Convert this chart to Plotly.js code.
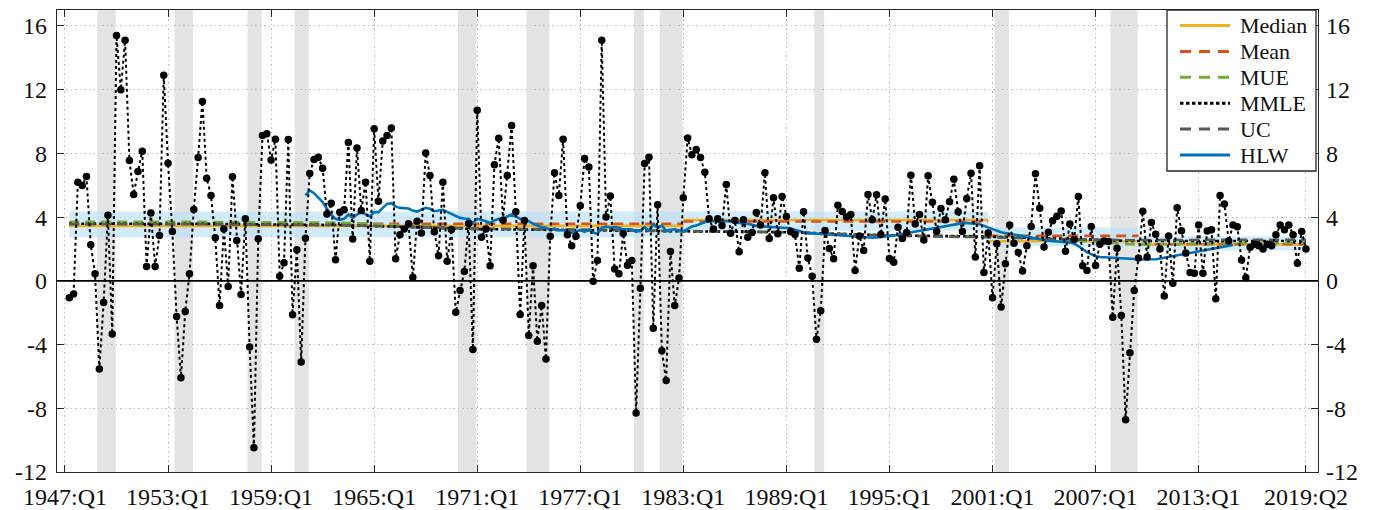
<!DOCTYPE html>
<html><head><meta charset="utf-8">
<script src="https://cdn.plot.ly/plotly-3.0.1.min.js"></script>
<style>html,body{margin:0;padding:0;background:#fff}#chart{width:1381px;height:510px}</style>
</head><body><div id="chart"></div>
<script>
// ---- data (annualised quarterly real GDP growth, 1947:Q2 - 2019:Q2) ----
const firstObs = '1947:Q2';
const growth = [
 -1.07,-0.82,6.19,
 5.98,6.55,2.26,0.44,
 -5.54,-1.36,4.12,-3.33,
 15.4,12.0,15.1,7.55,
 5.42,6.86,8.14,0.9,
 4.25,0.9,2.85,12.9,
 7.38,3.1,-2.24,-6.09,
 -1.92,0.44,4.48,7.74,
 11.26,6.44,5.36,2.7,
 -1.55,3.26,-0.36,6.53,
 2.53,-0.86,3.89,-4.16,
 -10.48,2.64,9.12,9.23,
 7.59,8.89,0.29,1.13,
 8.87,-2.13,1.95,-5.1,
 2.68,6.74,7.62,7.76,
 7.07,4.2,4.87,1.32,
 4.31,4.46,8.68,2.62,
 8.33,4.41,6.19,1.23,
 9.54,5.0,8.77,9.12,
 9.6,1.38,2.9,3.26,
 3.58,0.23,3.74,3.01,
 8.03,6.61,3.08,1.57,
 6.19,1.23,3.22,-1.97,
 -0.61,0.59,3.6,-4.31,
 10.7,2.74,3.26,0.94,
 7.28,8.95,3.8,6.61,
 9.75,4.33,-2.11,3.79,
 -3.43,0.94,-3.79,-1.55,
 -4.9,2.8,6.78,5.36,
 8.89,2.89,2.2,2.8,
 4.71,7.68,7.15,-0.02,
 1.28,15.1,4.0,5.33,
 0.75,0.44,2.97,0.98,
 1.28,-8.3,-0.46,7.36,
 7.76,-2.97,4.77,-4.39,
 -6.26,1.84,-1.55,0.17,
 5.21,8.97,7.91,8.24,
 7.74,6.82,3.89,3.26,
 3.89,3.47,6.05,2.99,
 3.79,1.82,3.83,2.74,
 3.03,4.29,3.5,6.78,
 2.66,5.21,2.95,5.29,
 4.04,3.08,2.91,0.79,
 4.33,1.44,0.29,-3.66,
 -1.88,3.16,2.03,1.38,
 4.75,4.35,4.0,4.16,
 0.65,2.82,1.9,5.42,
 3.83,5.4,2.91,5.13,
 1.4,1.17,3.37,2.66,
 3.03,6.63,3.56,4.16,
 2.57,6.59,4.94,3.1,
 4.54,3.83,4.96,6.38,
 4.33,3.1,5.17,6.76,
 1.49,7.22,0.52,3.0,
 -1.07,2.32,-1.65,1.07,
 3.51,2.36,1.78,0.61,
 2.2,3.41,6.72,4.56,
 2.13,3.05,3.77,4.06,
 4.39,1.86,3.56,2.6,
 5.29,0.94,0.65,3.41,
 0.96,2.3,2.5,2.47,
 -2.28,2.05,-2.18,-8.72,
 -4.52,-0.61,1.44,4.37,
 1.49,3.66,2.93,1.99,
 -0.96,2.82,-0.15,4.58,
 3.14,1.74,0.52,0.48,
 3.51,0.48,3.12,3.2,
 -1.13,5.36,4.83,2.5,
 3.5,3.4,1.3,0.2,
 2.1,2.3,2.2,2.0,
 2.3,2.2,2.9,3.5,
 3.2,3.5,2.9,1.1,
 3.1,2.0
];

// x-axis ticks
const tickLabels = ['1947:Q1','1953:Q1','1959:Q1','1965:Q1','1971:Q1','1977:Q1','1983:Q1','1989:Q1','1995:Q1','2001:Q1','2007:Q1','2013:Q1','2019:Q2'];
const yTicks = [-12,-8,-4,0,4,8,12,16];
const yTickText = ['-12','-8','-4','0','4','8','12','16'];

// NBER recessions (peak quarter, trough quarter)
const recPeaks   = ['1948:Q4','1953:Q2','1957:Q3','1960:Q2','1969:Q4','1973:Q4','1980:Q1','1981:Q3','1990:Q3','2001:Q1','2007:Q4'];
const recTroughs = ['1949:Q4','1954:Q2','1958:Q2','1961:Q1','1970:Q4','1975:Q1','1980:Q3','1982:Q4','1991:Q1','2001:Q4','2009:Q2'];

// piecewise-constant estimates (segment start dates, last date)
const segStarts = ['1947:Q2','1983:Q1','2000:Q4','2009:Q3'];
const segEnd = '2019:Q2';
const medianLevels = [3.45, 3.82, 2.48, 2.28];
const meanLevels   = [3.58, 3.72, 2.82, 2.30];
const bandLow      = [2.74, 3.15, 2.15, 1.90];
const bandHigh     = [4.35, 4.35, 3.35, 2.80];

// smooth trend estimates (read at selected dates)
const trendDates = ['1947:Q2','1955:Q1','1963:Q1','1971:Q1','1979:Q1','1983:Q1','1989:Q1','1995:Q1','2000:Q3','2005:Q1','2009:Q1','2014:Q1','2019:Q2'];
const mueVals  = [3.70,3.70,3.65,3.30,3.20,3.10,3.05,2.85,2.80,2.60,2.30,2.35,2.40];
const mmleVals = [3.58,3.58,3.50,3.25,3.15,3.10,3.05,2.85,2.78,2.65,2.50,2.50,2.50];
const ucVals   = [3.55,3.55,3.50,3.26,3.18,3.12,3.05,2.82,2.74,2.62,2.55,2.57,2.57];

// HLW trend growth, 1961:Q1 onwards (quarterly)
const hlwStart = '1961:Q1';
const hlw = [
 5.36,5.67,5.5,5.25,4.94,4.52,4.16,3.89,3.83,3.89,4.16,3.95,4.16,4.31,4.16,4.04,4.31,4.31,4.58,4.83,4.87,4.67,4.58,4.56,
 4.54,4.41,4.35,4.46,4.58,4.52,4.37,4.41,4.46,4.33,4.2,4.04,3.95,3.91,3.89,3.62,3.89,3.83,3.74,3.64,3.79,3.89,3.83,4.04,4.16,4.0,3.89,
 3.83,3.74,3.58,3.47,3.37,3.33,3.2,3.28,3.16,3.2,3.08,3.03,3.08,3.2,3.08,3.2,3.03,2.95,3.33,3.41,3.33,3.37,3.33,3.24,3.24,3.24,
 3.08,3.16,3.37,3.16,3.54,3.33,3.47,3.16,3.2,3.24,3.16,3.08,3.26,3.41,3.47,3.58,3.68,3.74,3.74,3.74,3.79,3.74,3.74,3.68,3.62,3.58,3.58,3.5,
 3.45,3.42,3.40,3.38,3.38,3.36,3.35,3.34,3.30,3.20,3.10,3.05,3.00,2.98,2.95,2.92,2.90,2.90,2.88,2.86,2.84,2.82,2.80,2.78,
 2.75,2.73,2.72,2.70,2.72,2.74,2.78,2.82,2.85,2.90,2.95,3.00,3.05,3.10,3.15,3.20,3.25,3.30,3.35,3.40,3.45,3.50,3.55,3.60,
 3.62,3.64,3.62,3.60,3.55,3.45,3.35,3.25,3.15,3.05,3.00,2.95,2.90,2.85,2.80,2.75,2.70,2.65,2.60,2.55,2.52,2.50,2.48,2.45,
 2.42,2.40,2.35,2.20,2.00,1.80,1.65,1.55,1.50,1.48,1.45,1.45,1.42,1.40,1.38,1.38,1.36,1.35,1.34,1.33,1.32,1.35,1.40,1.45,
 1.50,1.55,1.60,1.65,1.70,1.75,1.80,1.85,1.90,1.95,2.00,2.05,2.10,2.15,2.20,2.25
];

// legend entries
const legendNames = ['Median','Mean','MUE','MMLE','UC','HLW'];

// ---- styles ----
const styles = {
  Median:{color:'#EDB120',width:2.6,dash:'solid'},
  Mean:{color:'#D95319',width:2.6,dash:'10px,6px'},
  MUE:{color:'#77AC30',width:2.6,dash:'10px,6px'},
  MMLE:{color:'#000000',width:2.6,dash:'3px,3px'},
  UC:{color:'#595959',width:2.6,dash:'10px,6px'},
  HLW:{color:'#0072BD',width:2.6,dash:'solid'}
};
const legendDash = {Median:'solid',Mean:'11px,8px',MUE:'11px,8px',MMLE:'3.5px,2.5px',UC:'11px,8px',HLW:'solid'};

// ---- helpers ----
function qi(label){ const y=+label.slice(0,4), q=+label.slice(-1); return (y-1947)*4+(q-1); }
const x0 = qi(firstObs);
const xs = growth.map((_,k)=>x0+k);
function segBounds(k){ return [qi(segStarts[k]), (k+1<segStarts.length)?qi(segStarts[k+1]):qi(segEnd)]; }
function stepXY(levels){
  const x=[],y=[];
  segStarts.forEach((s,k)=>{ const [a,b]=segBounds(k); x.push(a,b,null); y.push(levels[k],levels[k],null); });
  return {x,y};
}

const traces=[];
segStarts.forEach((s,k)=>{
  const [a,b]=segBounds(k);
  traces.push({x:[a,b,b,a,a],y:[bandLow[k],bandLow[k],bandHigh[k],bandHigh[k],bandLow[k]],
    fill:'toself',fillcolor:'rgba(186,226,250,0.65)',line:{width:0},mode:'lines',hoverinfo:'skip',showlegend:false});
});
const med=stepXY(medianLevels), mean=stepXY(meanLevels);
traces.push({x:med.x,y:med.y,mode:'lines',name:'Median',line:styles.Median});
traces.push({x:mean.x,y:mean.y,mode:'lines',name:'Mean',line:styles.Mean});
const tx=trendDates.map(qi);
traces.push({x:tx,y:mueVals,mode:'lines',name:'MUE',line:styles.MUE});
traces.push({x:tx,y:mmleVals,mode:'lines',name:'MMLE',line:styles.MMLE});
traces.push({x:tx,y:ucVals,mode:'lines',name:'UC',line:styles.UC});
const h0=qi(hlwStart);
traces.push({x:hlw.map((_,k)=>h0+k),y:hlw,mode:'lines',name:'HLW',line:styles.HLW});
traces.push({x:xs,y:growth,mode:'lines+markers',name:'GDP growth',
  line:{color:'#000',width:2,dash:'dot'},marker:{color:'#000',size:7.5}});
traces.push({x:[0],y:[0],yaxis:'y2',mode:'markers',marker:{opacity:0},hoverinfo:'skip'});

const shapes = recPeaks.map((p,k)=>({type:'rect',xref:'x',yref:'paper',x0:qi(p)+0.5,x1:qi(recTroughs[k])+0.8,y0:0,y1:1,
  fillcolor:'#e3e3e3',line:{width:0},layer:'below'}));
shapes.push({type:'line',xref:'paper',yref:'y',x0:0,x1:1,y0:0,y1:0,line:{color:'#000',width:1.6}});

// ---- custom legend (box top-right of the plot area) ----
const W=1381,H=510,M={l:57,r:63,t:10,b:38};
const pw=W-M.l-M.r, ph=H-M.t-M.b;
const px=v=>(v-M.l)/pw, py=v=>(H-M.b-v)/ph;
const annotations=[];
shapes.push({type:'rect',xref:'paper',yref:'paper',x0:px(1167),x1:px(1316),y0:py(171),y1:py(10),
  fillcolor:'#fff',line:{color:'#262626',width:1.3},layer:'above'});
legendNames.forEach((n,k)=>{
  const yy=py(25.5+25.9*k);
  shapes.push({type:'line',xref:'paper',yref:'paper',x0:px(1180),x1:px(1230),y0:yy,y1:yy,
    line:{color:styles[n].color,width:3,dash:legendDash[n]},layer:'above'});
  annotations.push({xref:'paper',yref:'paper',x:px(1238),y:yy,xanchor:'left',yanchor:'middle',text:n,showarrow:false,
    font:{family:'Liberation Serif, Times New Roman, serif',size:22,color:'#111'}});
});

const font={family:'Liberation Serif, Times New Roman, serif',size:24,color:'#111'};
const axisCommon={ticks:'inside',ticklen:7,tickcolor:'#262626',showline:true,linecolor:'#262626',linewidth:1.3,zeroline:false,tickfont:font};
const layout={
  width:W,height:H,margin:M,
  paper_bgcolor:'#fff',plot_bgcolor:'rgba(0,0,0,0)',font:font,showlegend:false,
  xaxis:Object.assign({range:[-1.86,291.8],tickvals:tickLabels.map(qi),ticktext:tickLabels,mirror:'ticks',
    showgrid:true,gridcolor:'#bdbdbd',griddash:'1.5px,3px',gridwidth:1,ticklabelstandoff:3},axisCommon),
  yaxis:Object.assign({range:[-12,17],tickvals:yTicks,ticktext:yTickText,showgrid:true,gridcolor:'#bdbdbd',griddash:'1.5px,3px',gridwidth:1,
    ticklabelstandoff:4},axisCommon),
  yaxis2:Object.assign({range:[-12,17],tickvals:yTicks,ticktext:yTickText,overlaying:'y',side:'right',showgrid:false,
    ticklabelstandoff:2},axisCommon),
  shapes:shapes, annotations:annotations
};
Plotly.newPlot('chart',traces,layout,{staticPlot:true,displayModeBar:false});
</script></body></html>
